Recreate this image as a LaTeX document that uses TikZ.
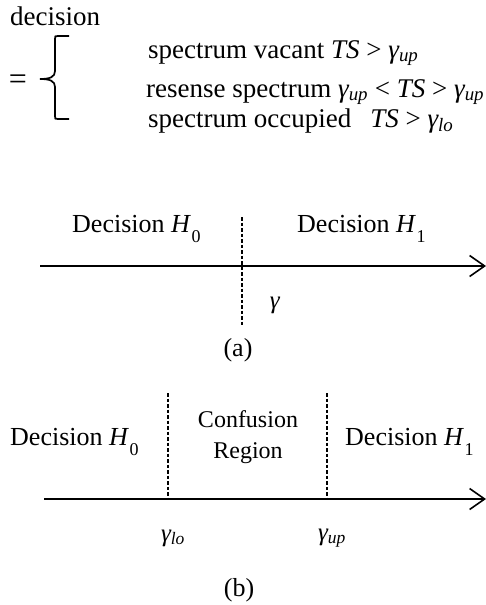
\documentclass[tikz,border=0pt]{standalone}
\usepackage{fontspec}
\setmainfont{Liberation Serif}
\usetikzlibrary{arrows.meta}
\newcommand{\gsub}[1]{\textit{γ\textsubscript{#1}}}
\newcommand{\hyp}[1]{\textit{H}\kern0.5pt\raisebox{-0.42em}{\fontsize{18}{18}\selectfont #1}}

\begin{document}
\begin{tikzpicture}[x=1pt, y=-1pt,
    lbl/.style={anchor=base west, inner sep=0pt, font=\fontsize{27}{32}\selectfont},
    big/.style={anchor=base west, inner sep=0pt, font=\fontsize{26}{30}\selectfont},
    gam/.style={inner sep=0pt, font=\fontsize{25}{28}\selectfont},
    capt/.style={inner sep=0pt, font=\fontsize{26}{30}\selectfont},
    thr/.style={dash pattern=on 3.5pt off 2pt, line width=1.4pt},
    axline/.style={line width=1.6pt, -{Straight Barb[length=15pt, width=21pt, line width=1.6pt]}}]
  \useasboundingbox (0,0) rectangle (486,605);
  % decision rule
  \node[lbl] (dec) at (10,25) {decision};
  \node[inner sep=0pt, font=\fontsize{32}{36}\selectfont] (eq) at (18,82) {=};
  \draw[line width=1.7pt] (69,36) -- (58,36) .. controls (55,36) .. (55,39) -- (55,71)
    .. controls (55,77) and (50,79) .. (40,79) .. controls (50,79) and (55,81) .. (55,87)
    -- (55,116) .. controls (55,119) .. (58,119) -- (69,119);
  \node[lbl] (vac) at (148,58) {spectrum vacant \textit{TS} > \gsub{up}};
  \node[lbl] (res) at (146,97) {resense spectrum \gsub{up} < \textit{TS} > \gsub{up}};
  \node[lbl] (occ) at (148,127) {spectrum occupied\hspace{0.7em}\textit{TS} > \gsub{lo}};

  % (a) single threshold
  \node[big] (ha0) at (72,232) {Decision \hyp{0}};
  \node[big] (ha1) at (297,232) {Decision \hyp{1}};
  \coordinate (la) at (40,266);
  \coordinate (ra) at (486,266);
  \draw[axline] (la) -- (ra);
  \coordinate (ta) at (242,217);
  \coordinate (ba) at (242,325);
  \draw[thr] (ta) -- (ba);
  \node[gam] (ga) at (275,305) {\textit{γ}};
  \node[capt] (capa) at (238,350) {(a)};

  % (b) double threshold
  \node[big] (hb0) at (10,445) {Decision \hyp{0}};
  \node[capt, align=center, font=\fontsize{24}{31}\selectfont] (conf) at (248,437) {Confusion\\Region};
  \node[big] (hb1) at (345,445) {Decision \hyp{1}};
  \coordinate (lb) at (44,499);
  \coordinate (rb) at (486,499);
  \draw[axline] (lb) -- (rb);
  \coordinate (tlo) at (168,393);
  \coordinate (blo) at (168,499);
  \coordinate (tup) at (327,393);
  \coordinate (bup) at (327,499);
  \draw[thr] (tlo) -- (blo);
  \draw[thr] (tup) -- (bup);
  \node[gam] (glo) at (173,538) {\gsub{lo}};
  \node[gam] (gup) at (332,538) {\gsub{up}};
  \node[capt] (capb) at (239,590) {(b)};
\end{tikzpicture}
\end{document}
